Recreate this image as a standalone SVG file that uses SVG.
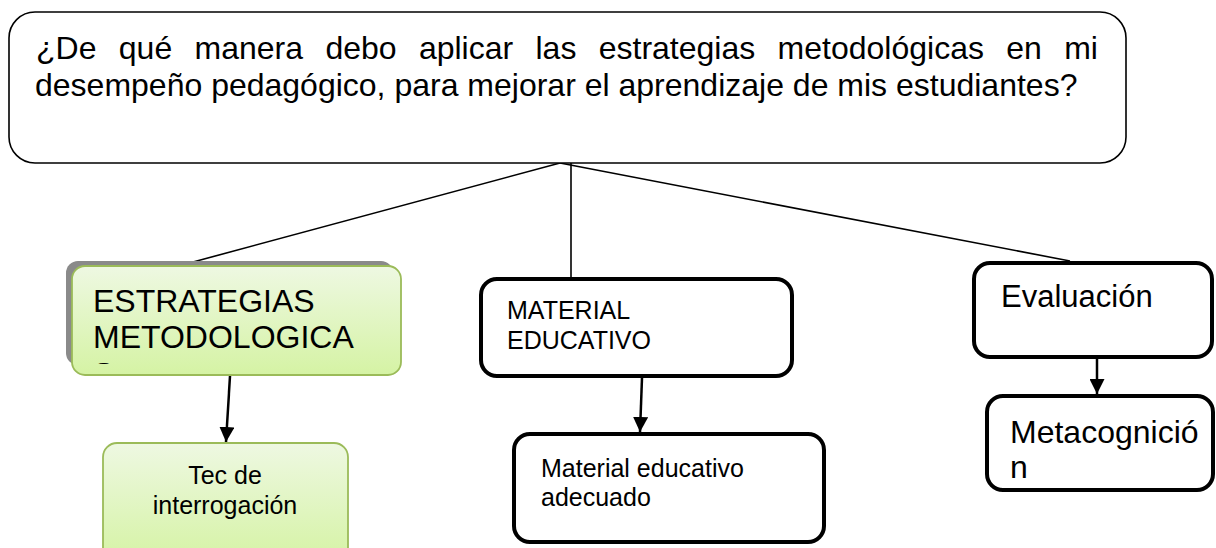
<svg xmlns="http://www.w3.org/2000/svg" width="1216" height="548" viewBox="0 0 1216 548">
<style>
text{font-family:"Liberation Sans",Arial,sans-serif;fill:#000}
.conn{stroke:#000;stroke-width:1.6;fill:none}
.arr{stroke:#000;stroke-width:2.5;fill:none}
.black{fill:#fff;stroke:#000;stroke-width:4}
.green{fill:url(#gg);stroke:#9bbb59;stroke-width:1.8}
</style>
<defs>
<linearGradient id="gg" x1="0" y1="0" x2="0" y2="1">
<stop offset="0" stop-color="#eef8e2"/>
<stop offset="1" stop-color="#d5f3a4"/>
</linearGradient>
<marker id="ah" viewBox="0 0 10 10" refX="10" refY="5" markerWidth="6" markerHeight="6" markerUnits="strokeWidth" orient="auto">
<path d="M0,0 L10,5 L0,10 Z" fill="#000"/>
</marker>
<clipPath id="clipE"><rect x="72" y="266" width="329" height="98"/></clipPath>
</defs>

<g id="connectors">
<line class="conn" x1="560" y1="163" x2="193" y2="262"/>
<line class="conn" x1="571" y1="163" x2="571" y2="278"/>
<line class="conn" x1="560" y1="163" x2="1070" y2="261"/>
<line class="arr" x1="230" y1="376" x2="226" y2="442" marker-end="url(#ah)"/>
<line class="arr" x1="642" y1="378" x2="640" y2="432" marker-end="url(#ah)"/>
<line class="arr" x1="1097" y1="358" x2="1097" y2="394" marker-end="url(#ah)"/>
</g>

<g id="question">
<rect x="9" y="12" width="1117" height="151" rx="26" ry="26" fill="#fff" stroke="#000" stroke-width="1.6"/>
<g font-size="32">
<text x="36" y="59">¿De</text>
<text x="118.8" y="59">qué</text>
<text x="194.5" y="59">manera</text>
<text x="325.4" y="59">debo</text>
<text x="418.9" y="59">aplicar</text>
<text x="535.5" y="59">las</text>
<text x="598.7" y="59">estrategias</text>
<text x="777.6" y="59">metodológicas</text>
<text x="1006.3" y="59">en</text>
<text x="1064.2" y="59">mi</text>
<text x="35" y="96">desempeño pedagógico, para mejorar el aprendizaje de mis estudiantes?</text>
</g>
</g>

<g id="estrategias">
<rect x="66" y="261" width="327" height="104" rx="12" ry="12" fill="#8a8a8a"/>
<rect class="green" x="72" y="266" width="329" height="109" rx="13" ry="13"/>
<g clip-path="url(#clipE)" font-size="32">
<text x="93" y="312">ESTRATEGIAS</text>
<text x="93" y="348">METODOLOGICA</text>
<text x="93" y="385">S</text>
</g>
</g>

<g id="tec">
<rect class="green" x="103" y="443" width="245" height="120" rx="14" ry="14"/>
<text x="225" y="484" font-size="25" text-anchor="middle">Tec de</text>
<text x="225" y="514" font-size="25" text-anchor="middle">interrogación</text>
</g>

<g id="material">
<rect class="black" x="481" y="279" width="311" height="97" rx="16" ry="16"/>
<text x="507" y="319" font-size="25">MATERIAL</text>
<text x="507" y="349" font-size="25">EDUCATIVO</text>
</g>

<g id="material-adecuado">
<rect class="black" x="514" y="434" width="310" height="108" rx="16" ry="16"/>
<text x="541" y="477" font-size="25">Material educativo</text>
<text x="541" y="506" font-size="25">adecuado</text>
</g>

<g id="evaluacion">
<rect class="black" x="974" y="263" width="238" height="94" rx="16" ry="16"/>
<text x="1001" y="307" font-size="31">Evaluación</text>
</g>

<g id="metacognicion">
<rect class="black" x="987" y="396" width="226" height="94" rx="16" ry="16"/>
<text x="1010" y="443" font-size="32">Metacognició</text>
<text x="1010" y="478" font-size="32">n</text>
</g>
</svg>
